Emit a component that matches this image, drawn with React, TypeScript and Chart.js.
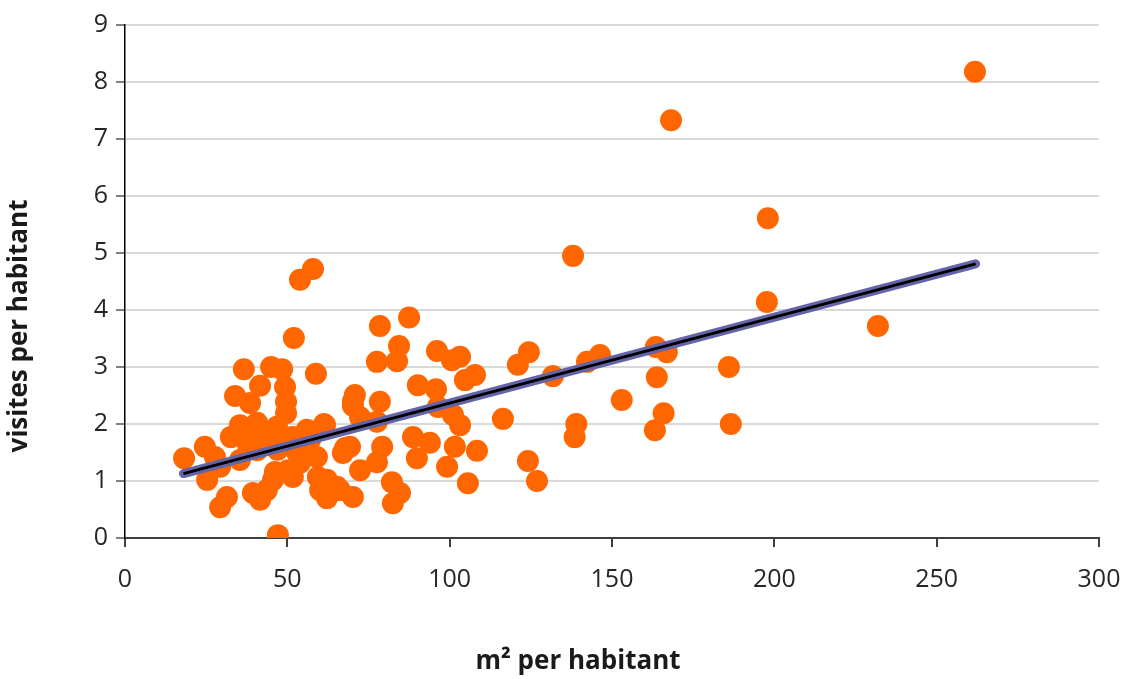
import { useEffect, useRef } from "react"
import { Chart, registerables } from "chart.js"

Chart.register(...registerables)

// m² per habitant
const areaValues = [
  261.8, 168.2, 198, 138, 197.7, 231.9, 186, 186.6, 166.9, 163.5,
  163.8, 165.9, 163.2, 153, 146.3, 142.3, 131.8, 139, 138.5, 124.4,
  121, 124.1, 126.9, 116.4, 78.5, 87.5, 84.4, 77.6, 83.8, 58.8,
  96.1, 103.2, 100.7, 107.8, 104.7, 90.2, 95.8, 70.8, 70.2, 78.5,
  96.4, 101, 103.2, 61.3, 77.6, 72.4, 79.2, 69.3, 67.1, 72.4,
  77.6, 88.7, 93.9, 89.9, 99.2, 101.6, 108.4, 105.6, 82.2, 84.7,
  82.5, 60.7, 62.2, 70.2, 65.3, 57.9, 53.9, 52, 36.6, 45,
  48.4, 49.3, 41.6, 33.9, 49.6, 49.6, 38.5, 35.4, 40.7, 32.6,
  44.7, 49.3, 18.2, 24.6, 27.7, 35.4, 40.7, 45.6, 51.7, 57,
  61.6, 67.8, 25.3, 29.3, 31.4, 29.3, 39.4, 41.6, 45.6, 46.2,
  43.7, 47.1, 51.7, 53.9, 62.2, 66.2, 59.1, 54.8, 70.2, 59.4,
  37, 42, 38, 47, 53, 56, 50.2, 60.1, 46.8,
]

// visites per habitant
const visitValues = [
  8.18, 7.33, 5.61, 4.95, 4.14, 3.72, 3.0, 2.0, 3.26, 3.35,
  2.82, 2.19, 1.89, 2.42, 3.21, 3.09, 2.84, 2.0, 1.77, 3.26,
  3.04, 1.35, 1.0, 2.09, 3.72, 3.87, 3.37, 3.09, 3.1, 2.88,
  3.28, 3.18, 3.12, 2.86, 2.77, 2.68, 2.61, 2.51, 2.32, 2.39,
  2.3, 2.16, 1.98, 2.0, 2.04, 2.12, 1.6, 1.6, 1.49, 1.19,
  1.33, 1.77, 1.67, 1.4, 1.25, 1.6, 1.53, 0.96, 0.98, 0.79,
  0.61, 0.9, 0.7, 0.72, 0.9, 4.72, 4.53, 3.51, 2.96, 3.0,
  2.96, 2.65, 2.67, 2.49, 2.39, 2.19, 2.37, 1.98, 2.02, 1.77,
  1.86, 1.77, 1.4, 1.6, 1.42, 1.37, 1.54, 1.67, 1.77, 1.72,
  1.98, 1.58, 1.02, 1.25, 0.72, 0.54, 0.79, 0.67, 1.02, 1.16,
  0.84, 0.05, 1.07, 1.32, 1.02, 0.84, 1.42, 1.54, 2.4, 1.07,
  1.85, 1.75, 1.6, 1.55, 1.5, 1.9, 1.19, 0.84, 1.95,
]

// trend line ends
const trendX = [18, 262]
const trendY = [1.13, 4.81]

const xTitle = "m² per habitant"
const yTitle = "visites per habitant"

const FONT = "'Open Sans', sans-serif"

// Excel puts the axis titles off the plot centre, so draw them ourselves
const axisTitles = {
  id: "axisTitles",
  afterDraw(chart: Chart) {
    const { ctx } = chart
    ctx.save()
    ctx.fillStyle = "#1a1a1a"
    ctx.font = `bold 26px ${FONT}`
    ctx.textAlign = "center"
    ctx.textBaseline = "middle"
    ctx.fillText(xTitle, 578, 662)
    ctx.translate(20, 326)
    ctx.rotate(-Math.PI / 2)
    ctx.fillText(yTitle, 0, 0)
    ctx.restore()
  },
}

function ScatterChart() {
  const chartRef = useRef<HTMLCanvasElement>(null)
  const chartInstance = useRef<Chart | null>(null)

  useEffect(() => {
    if (!chartRef.current) return

    if (chartInstance.current) {
      chartInstance.current.destroy()
    }

    const ctx = chartRef.current.getContext("2d")
    if (!ctx) return

    const points = areaValues.map((x, i) => ({ x, y: visitValues[i] }))
    const trend = trendX.map((x, i) => ({ x, y: trendY[i] }))

    chartInstance.current = new Chart(ctx, {
      type: "scatter",
      data: {
        datasets: [
          {
            label: "trend",
            data: trend,
            showLine: true,
            borderColor: "#000000",
            borderWidth: 3,
            pointRadius: 0,
            order: 0,
          },
          {
            label: "trend shadow",
            data: trend,
            showLine: true,
            borderColor: "#6464a8",
            borderWidth: 9,
            borderCapStyle: "round",
            pointRadius: 0,
            order: 1,
          },
          {
            label: "visites",
            data: points,
            backgroundColor: "#ff6600",
            borderWidth: 0,
            pointRadius: 11,
            pointHoverRadius: 11,
            order: 2,
          },
        ],
      },
      options: {
        responsive: true,
        maintainAspectRatio: false,
        animation: false,
        layout: {
          padding: { top: 25, right: 26, left: 0, bottom: 0 },
        },
        scales: {
          x: {
            type: "linear",
            min: 0,
            max: 300,
            afterFit: (scale) => {
              scale.height = 141
              scale.paddingRight = 0
              scale.paddingLeft = 0
            },
            ticks: {
              stepSize: 50,
              color: "#262626",
              padding: 18,
              font: { family: FONT, size: 25 },
            },
            grid: {
              drawOnChartArea: false,
              drawTicks: true,
              tickLength: 9,
              tickColor: "#404040",
              lineWidth: 2,
            },
            border: { color: "#404040", width: 2 },
          },
          y: {
            type: "linear",
            min: 0,
            max: 9,
            afterFit: (scale) => {
              scale.width = 125
            },
            ticks: {
              stepSize: 1,
              color: "#262626",
              padding: 8,
              font: { family: FONT, size: 25 },
            },
            grid: {
              color: "#d9d9d9",
              lineWidth: 2,
              tickLength: 9,
              tickColor: "#808080",
            },
            border: { color: "#000000", width: 1.5 },
          },
        },
        plugins: {
          legend: { display: false },
          tooltip: { enabled: false },
        },
      },
      plugins: [axisTitles],
    })

    return () => {
      if (chartInstance.current) {
        chartInstance.current.destroy()
        chartInstance.current = null
      }
    }
  }, [])

  return <canvas ref={chartRef} />
}

export default function App() {
  return (
    <div
      style={{
        position: "fixed",
        left: 0,
        top: 0,
        width: 1125,
        height: 679,
        background: "#ffffff",
      }}
    >
      <ScatterChart />
    </div>
  )
}
